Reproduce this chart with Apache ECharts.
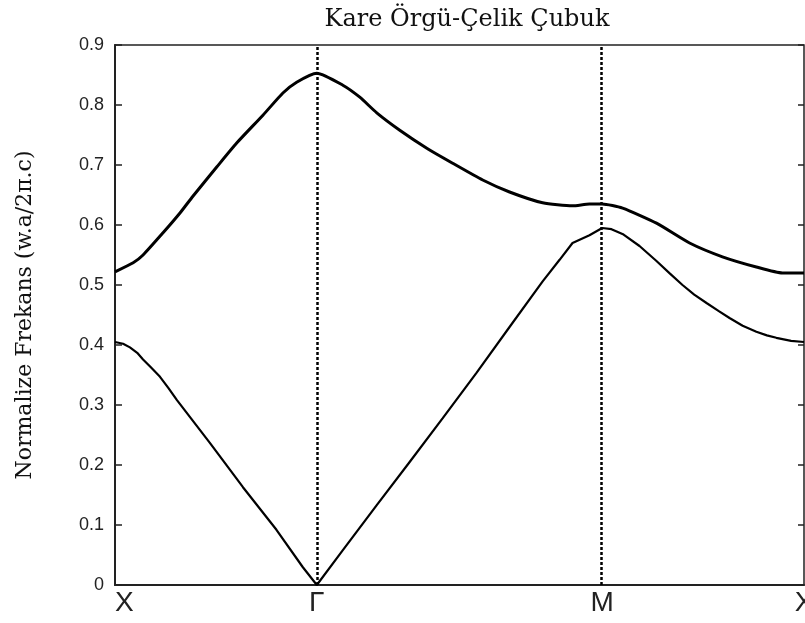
<!DOCTYPE html>
<html>
<head>
<meta charset="utf-8">
<script src="https://cdn.jsdelivr.net/npm/echarts@6/dist/echarts.min.js"></script>
<style>
html,body{margin:0;padding:0;background:#fff;}
#chart{width:805px;height:623px;}
</style>
</head>
<body>
<div id="chart"></div>
<script>
// Symmetry points along the path X -> Γ -> M -> X (path length units)
const kPoints = [0, 1, 2.414, 3.414];
const kLabels = ['X', 'Γ', 'M', 'X'];
const yTicks = [0, 0.1, 0.2, 0.3, 0.4, 0.5, 0.6, 0.7, 0.8, 0.9];

// Band 1 (lower)
const lowerK = [0, 0.04, 0.074, 0.11, 0.139, 0.18, 0.223, 0.265, 0.307, 0.47, 0.634, 0.80, 0.93, 1, 1.129, 1.297, 1.460, 1.624, 1.792, 1.955, 2.119, 2.203, 2.267, 2.351, 2.414, 2.46, 2.52, 2.599, 2.683, 2.75, 2.812, 2.87, 2.931, 2.99, 3.045, 3.11, 3.178, 3.23, 3.277, 3.35, 3.414];
const lowerF = [0.405, 0.402, 0.396, 0.387, 0.376, 0.362, 0.347, 0.328, 0.308, 0.237, 0.163, 0.092, 0.03, 0.0, 0.058, 0.133, 0.205, 0.278, 0.354, 0.43, 0.506, 0.542, 0.57, 0.583, 0.595, 0.593, 0.584, 0.565, 0.54, 0.519, 0.5, 0.484, 0.47, 0.457, 0.445, 0.432, 0.422, 0.416, 0.412, 0.407, 0.405];

// Band 2 (upper)
const upperK = [0, 0.09, 0.139, 0.238, 0.322, 0.386, 0.505, 0.604, 0.733, 0.832, 0.90, 1, 1.129, 1.213, 1.297, 1.411, 1.545, 1.673, 1.822, 1.955, 2.119, 2.267, 2.351, 2.414, 2.515, 2.683, 2.847, 3.010, 3.178, 3.307, 3.414];
const upperF = [0.522, 0.537, 0.550, 0.587, 0.62, 0.648, 0.697, 0.737, 0.783, 0.82, 0.838, 0.853, 0.833, 0.813, 0.787, 0.758, 0.728, 0.703, 0.675, 0.655, 0.637, 0.632, 0.635, 0.635, 0.628, 0.603, 0.57, 0.547, 0.53, 0.52, 0.52];

const titleText = 'Kare Örgü-Çelik Çubuk';
const yName = 'Normalize Frekans (w.a/2π.c)';

const zip = (a, b) => a.map((v, i) => [v, b[i]]);

const chart = echarts.init(document.getElementById('chart'), null, {renderer: 'canvas'});
chart.setOption({
  animation: false,
  backgroundColor: '#ffffff',
  title: {
    text: titleText,
    left: 462,
    textAlign: 'center',
    top: 3,
    textStyle: {fontFamily: 'DejaVu Serif', fontSize: 24, fontWeight: 'normal', color: '#111'}
  },
  grid: {left: 115, right: 1, top: 45, bottom: 38, outerBoundsMode: 'none', containLabel: false,
         show: true, borderColor: '#222', borderWidth: 1.5, backgroundColor: 'transparent'},
  xAxis: {
    type: 'value',
    min: 0,
    max: kPoints[kPoints.length - 1],
    axisLine: {show: true, lineStyle: {color: '#222', width: 2}},
    axisTick: {show: false},
    splitLine: {show: false},
    axisLabel: {
      customValues: kPoints,
      formatter: function (v) {
        const i = kPoints.findIndex(p => Math.abs(p - v) < 1e-6);
        return i >= 0 ? kLabels[i] : '';
      },
      fontFamily: 'Liberation Sans',
      fontSize: 28,
      color: '#222',
      margin: 4,
      alignMinLabel: 'left',
      showMinLabel: true,
      showMaxLabel: true,
      hideOverlap: false
    }
  },
  yAxis: [{
    type: 'value',
    min: 0,
    max: 0.9,
    interval: 0.1,
    name: yName,
    nameLocation: 'middle',
    nameRotate: 90,
    nameGap: 79,
    nameTextStyle: {fontFamily: 'DejaVu Serif', fontSize: 22, color: '#111'},
    axisLine: {show: true, lineStyle: {color: '#222', width: 2}},
    axisTick: {show: true, inside: true, length: 7, lineStyle: {color: '#222', width: 1.5}},
    splitLine: {show: false},
    axisLabel: {
      customValues: yTicks,
      fontFamily: 'Liberation Sans', fontSize: 18, color: '#222', margin: 11
    }
  }, {
    type: 'value',
    position: 'right',
    min: 0,
    max: 0.9,
    interval: 0.1,
    axisLine: {show: false},
    axisTick: {show: true, inside: true, length: 6, lineStyle: {color: '#222', width: 1.5}},
    axisLabel: {show: false},
    splitLine: {show: false}
  }],
  series: [{
    type: 'line',
    data: zip(lowerK, lowerF),
    showSymbol: false,
    smooth: false,
    lineStyle: {color: '#000', width: 2.2},
    markLine: {
      silent: true,
      symbol: 'none',
      label: {show: false},
      lineStyle: {color: '#000', width: 2.5, type: [3, 2]},
      data: [{xAxis: kPoints[1]}, {xAxis: kPoints[2]}]
    }
  }, {
    type: 'line',
    data: zip(upperK, upperF),
    showSymbol: false,
    smooth: 0.2,
    lineStyle: {color: '#000', width: 3}
  }]
});
</script>
</body>
</html>
